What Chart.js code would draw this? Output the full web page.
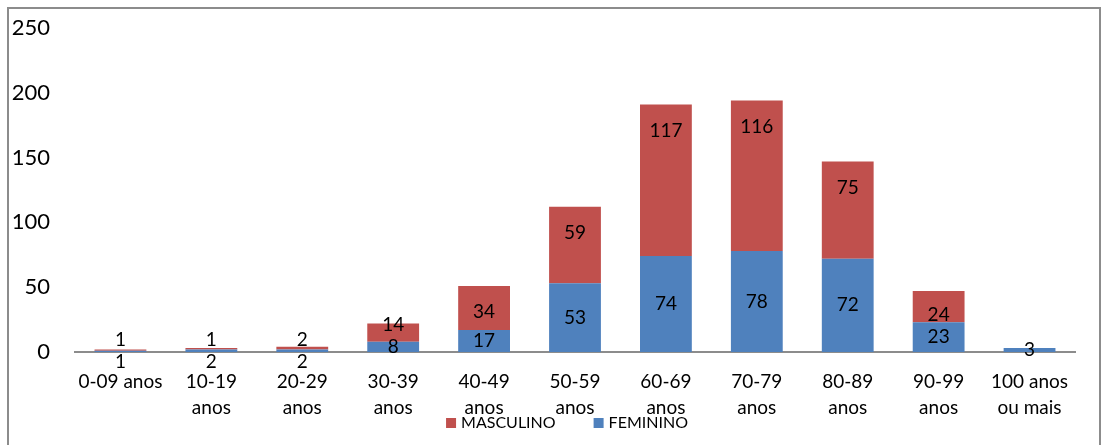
<!DOCTYPE html>
<html>
<head>
<meta charset="utf-8">
<script src="https://cdn.jsdelivr.net/npm/chart.js@4"></script>
<style>
  body { margin: 0; background: #fff; }
  #moldura {
    position: absolute; left: 7px; top: 7px; width: 1094px; height: 460px;
    border: 2px solid #8c8c8c; box-sizing: border-box;
  }
  #grafico { position: absolute; left: 0; top: 0; }
</style>
</head>
<body>
<div id="moldura"></div>
<canvas id="grafico" width="1105" height="445"></canvas>
<script>
// Faixas etárias (eixo X)
const faixas = ['0-09 anos', ['10-19', 'anos'], ['20-29', 'anos'], ['30-39', 'anos'], ['40-49', 'anos'],
    ['50-59', 'anos'], ['60-69', 'anos'], ['70-79', 'anos'], ['80-89', 'anos'], ['90-99', 'anos'], ['100 anos', 'ou mais']];

// Valores por sexo
const feminino = [1, 2, 2, 8, 17, 53, 74, 78, 72, 23, 3];
const masculino = [1, 1, 2, 14, 34, 59, 117, 116, 75, 24, 0];

// Eixo Y
const yMax = 250;
const yPasso = 50;

const corFem = '#4f81bd';
const corMasc = '#c0504d';
const fonte = 'Lato, "Open Sans", sans-serif';

// Rótulos de dados no estilo do Excel
const rotulos = {
    id: 'rotulos',
    afterDatasetsDraw(chart) {
        const ctx = chart.ctx;
        const metaF = chart.getDatasetMeta(0);
        const metaM = chart.getDatasetMeta(1);
        ctx.save();
        ctx.font = '19px ' + fonte;
        ctx.fillStyle = '#000';
        ctx.textAlign = 'center';
        ctx.textBaseline = 'middle';
        metaF.data.forEach((bar, i) => {
            let yF = null;
            if (feminino[i] > 0) {
                const h = bar.base - bar.y;
                yF = (h >= 8 || masculino[i] === 0) ? (bar.y + bar.base) / 2 : bar.base + 10;
                ctx.fillText(String(feminino[i]), bar.x, yF);
            }
            if (masculino[i] > 0) {
                const barM = metaM.data[i];
                let yM = barM.y + 26;
                if (yF !== null) yM = Math.min(yM, yF - 22);
                ctx.fillText(String(masculino[i]), barM.x, yM);
            }
        });
        ctx.restore();
    }
};

// Legenda embaixo: MASCULINO primeiro
const legenda = {
    id: 'legenda',
    afterDraw(chart) {
        const ctx = chart.ctx;
        const itens = chart.data.datasets.slice().reverse();
        ctx.save();
        ctx.font = '16px ' + fonte;
        ctx.textBaseline = 'middle';
        const larguras = itens.map(d => 10 + 5 + ctx.measureText(d.label).width);
        const total = larguras.reduce((a, b) => a + b, 0) + 38 * (itens.length - 1);
        let x = (chart.chartArea.left + chart.chartArea.right) / 2 - 8 - total / 2;
        const y = 423;
        itens.forEach((d, i) => {
            ctx.fillStyle = d.backgroundColor;
            ctx.fillRect(x, y - 5, 10, 10);
            ctx.fillStyle = '#000';
            ctx.fillText(d.label, x + 15, y);
            x += larguras[i] + 38;
        });
        ctx.restore();
    }
};

new Chart(document.getElementById('grafico').getContext('2d'), {
    type: 'bar',
    data: {
        labels: faixas,
        datasets: [
            { label: 'FEMININO', data: feminino, backgroundColor: corFem, barPercentage: 0.57, categoryPercentage: 1 },
            { label: 'MASCULINO', data: masculino, backgroundColor: corMasc, barPercentage: 0.57, categoryPercentage: 1 }
        ]
    },
    options: {
        responsive: false,
        animation: false,
        layout: { padding: { top: 28, right: 30, bottom: 0, left: 0 } },
        plugins: {
            tooltip: { enabled: false },
            legend: { display: false }
        },
        scales: {
            x: {
                stacked: true,
                grid: { display: false, drawTicks: false },
                border: { display: true, color: '#8c8c8c', width: 2 },
                ticks: { color: '#000', padding: 17, maxRotation: 0, autoSkip: false,
                    font: { family: fonte, size: 19, lineHeight: 1.35 } },
                afterFit(scale) { scale.height = 93; }
            },
            y: {
                stacked: true,
                min: 0, max: yMax,
                grid: { display: false, drawTicks: false },
                border: { display: false },
                ticks: { stepSize: yPasso, color: '#000', padding: 25,
                    font: { family: fonte, size: 22 } },
                afterFit(scale) {
                    scale.width = 75;
                    scale.paddingTop = 14;
                    scale.paddingBottom = 14;
                }
            }
        }
    },
    plugins: [rotulos, legenda]
});
</script>
</body>
</html>
